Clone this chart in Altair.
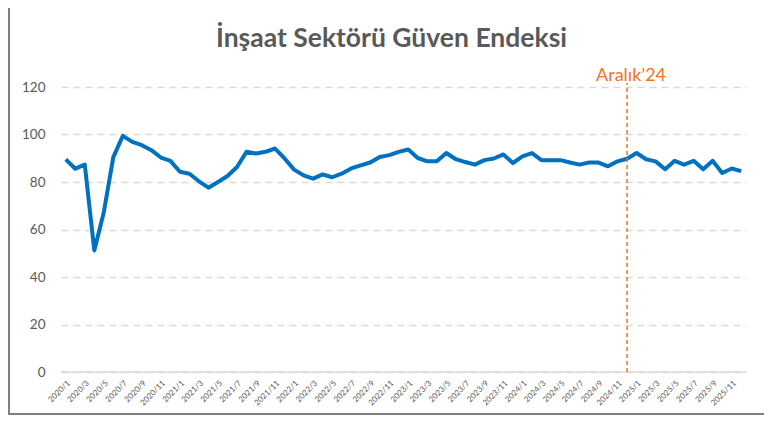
import altair as alt
import pandas as pd

years = [2020, 2021, 2022, 2023, 2024, 2025]
month_numbers = list(range(1, 13))
months = [f"{y}/{m}" for y in years for m in month_numbers]

index_values = [
    89.5, 85.6, 87.3, 51.2, 67.3, 90.5, 99.4, 96.9, 95.5, 93.4, 90.3, 88.9,
    84.3, 83.5, 80.3, 77.6, 80.0, 82.5, 86.3, 92.7, 92.0, 92.7, 94.1, 89.9,
    85.2, 82.8, 81.4, 83.2, 82.0, 83.5, 85.7, 87.0, 88.2, 90.5, 91.3, 92.7,
    93.7, 90.1, 88.7, 88.7, 92.2, 89.6, 88.4, 87.3, 89.2, 89.9, 91.6, 88.0,
    90.8, 92.2, 89.2, 89.2, 89.2, 88.2, 87.3, 88.2, 88.2, 86.6, 88.7, 89.8,
    92.2, 89.6, 88.7, 85.4, 88.9, 87.3, 88.9, 85.4, 88.9, 83.8, 85.7, 84.6,
]

x_tick_labels = months[::2]
y_ticks = [0, 20, 40, 60, 80, 100, 120]
marker_month = "2024/12"
marker_label = "Aralık’24"
title_text = "İnşaat Sektörü Güven Endeksi"

FONT = "Lato"
GREY_TEXT = "#595959"
GRID = "#D9D9D9"
BLUE = "#0070C0"
ORANGE = "#F5731E"

df = pd.DataFrame({"ay": months, "endeks": index_values})
one = pd.DataFrame({"ay": [marker_month]})

W, H = 685, 285

x_scale = alt.Scale(type="point", padding=0.5, domain=months)
y_scale = alt.Scale(domain=[0, 120], nice=False)

line = alt.Chart(df).mark_line(color=BLUE, strokeWidth=4, strokeJoin="round").encode(
    x=alt.X(
        "ay:O", sort=None, scale=x_scale,
        axis=alt.Axis(
            values=x_tick_labels, labelAngle=315, labelFontSize=8, labelFont=FONT,
            labelColor=GREY_TEXT, ticks=False, domain=False, grid=False,
            labelPadding=7, title=None, labelOverlap=False,
        ),
    ),
    y=alt.Y(
        "endeks:Q", scale=y_scale,
        axis=alt.Axis(
            values=y_ticks, grid=True, gridDash=[7, 5], gridColor=GRID, gridWidth=1.5,
            ticks=False, domain=False, labelFontSize=13.5, labelFont=FONT,
            labelColor=GREY_TEXT, labelPadding=16, title=None,
        ),
    ),
)

zero_line = alt.Chart(one).mark_rule(color=GRID, strokeWidth=1.5).encode(
    y=alt.YDatum(0, type="quantitative")
)

marker_rule = alt.Chart(one).mark_rule(color=ORANGE, strokeWidth=1.5, strokeDash=[4, 3]).encode(
    x=alt.XDatum(marker_month, type="ordinal"),
    y=alt.YDatum(0, type="quantitative"),
    y2=alt.value(-4),
)

marker_text = alt.Chart(one).mark_text(
    text=marker_label, color=ORANGE, fontSize=18, font=FONT,
    align="center", baseline="alphabetic", dx=4,
).encode(
    x=alt.XDatum(marker_month, type="ordinal"),
    y=alt.value(-6),
)

title_mark = alt.Chart(one).mark_text(
    text=title_text, color=GREY_TEXT, fontSize=26.5, font=FONT, fontWeight="bold",
    align="center", baseline="alphabetic",
).encode(x=alt.value(W / 2 - 12), y=alt.value(-40))

border = alt.Chart(one).mark_rect(fillOpacity=0, stroke="#7F7F7F", strokeWidth=2).encode(
    x=alt.value(-52), x2=alt.value(W + 80), y=alt.value(-120), y2=alt.value(H + 42)
)

chart = alt.layer(zero_line, line, marker_rule, marker_text, title_mark, border).properties(
    width=W,
    height=H,
    padding={"left": 53, "top": 79, "right": 18, "bottom": 43},
    autosize=alt.AutoSizeParams(type="none"),
).configure_view(stroke=None)

chart.save("out.html", embed_options={"renderer": "svg", "actions": False})
